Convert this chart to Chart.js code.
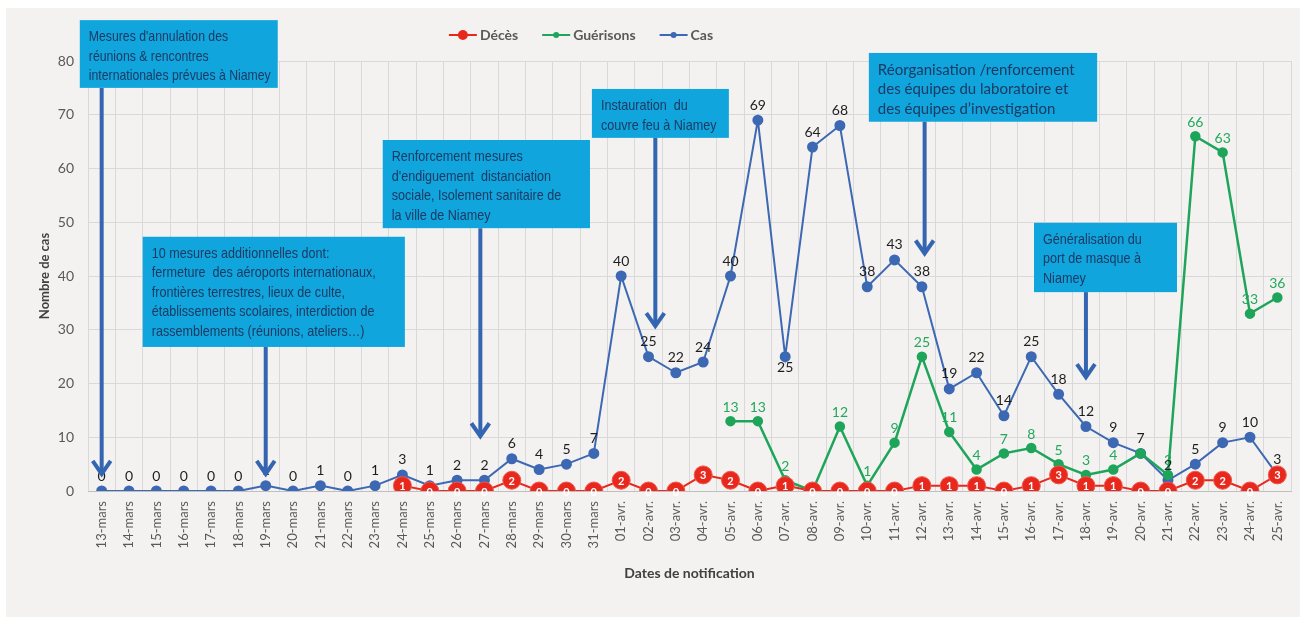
<!DOCTYPE html>
<html lang="fr">
<head>
<meta charset="utf-8">
<title>Cas, guérisons et décès par date de notification</title>
<script src="https://cdn.jsdelivr.net/npm/chart.js@4.4.1/dist/chart.umd.min.js"></script>
<style>
  html, body { margin: 0; padding: 0; background: #fff; }
  #wrap { width: 1308px; height: 617px; }
</style>
</head>
<body>
<div id="wrap"><canvas id="chart" width="1308" height="617"></canvas></div>
<script>
const dates = [
  "13-mars", "14-mars", "15-mars", "16-mars", "17-mars", "18-mars", "19-mars", "20-mars",
  "21-mars", "22-mars", "23-mars", "24-mars", "25-mars", "26-mars", "27-mars", "28-mars",
  "29-mars", "30-mars", "31-mars", "01-avr.", "02-avr.", "03-avr.", "04-avr.", "05-avr.",
  "06-avr.", "07-avr.", "08-avr.", "09-avr.", "10-avr.", "11-avr.", "12-avr.", "13-avr.",
  "14-avr.", "15-avr.", "16-avr.", "17-avr.", "18-avr.", "19-avr.", "20-avr.", "21-avr.",
  "22-avr.", "23-avr.", "24-avr.", "25-avr."
];

const cas = [
  0, 0, 0, 0, 0, 0, 1, 0, 1, 0, 1, 3, 1, 2, 2, 6, 4, 5, 7,
  40, 25, 22, 24, 40, 69, 25, 64, 68, 38, 43, 38, 19, 22, 14, 25, 18, 12, 9, 7, 2, 5, 9, 10, 3
];

const guerisons = [
  null, null, null, null, null, null, null, null, null, null, null, null, null, null, null, null,
  null, null, null, null, null, null, null,
  13, 13, 2, 0, 12, 1, 9, 25, 11, 4, 7, 8, 5, 3, 4, 7, 3, 66, 63, 33, 36
];

const deces = [
  null, null, null, null, null, null, null, null, null, null, null,
  1, 0, 0, 0, 2, 0, 0, 0, 2, 0, 0, 3, 2, 0, 1, 0, 0, 0, 0, 1, 1, 1, 0, 1, 3, 1, 1, 0, 0, 2, 2, 0, 3
];

// mesures annoncées : boîte (index de catégorie / valeur) + flèche vers la date
const mesures = [
  { lines: ["Mesures d'annulation des", "réunions & rencontres", "internationales prévues à Niamey"],
    box: [-0.8, 6.44, 87.6, 75.0], arrowX: 0, arrowTip: 3 },
  { lines: ["10 mesures additionnelles dont:", "fermeture  des aéroports internationaux,",
            "frontières terrestres, lieux de culte,", "établissements scolaires, interdiction de",
            "rassemblements (réunions, ateliers…)"],
    box: [1.5, 11.09, 47.3, 26.8], arrowX: 6, arrowTip: 3 },
  { lines: ["Renforcement mesures", "d'endiguement  distanciation", "sociale, Isolement sanitaire de",
            "la ville de Niamey"],
    box: [10.28, 17.86, 65.3, 48.9], arrowX: 13.85, arrowTip: 10 },
  { lines: ["Instauration  du", "couvre feu à Niamey"],
    box: [17.93, 22.94, 74.8, 65.7], arrowX: 20.25, arrowTip: 30.5 },
  { lines: ["Réorganisation /renforcement", "des équipes du laboratoire et", "des équipes d’investigation"],
    box: [28.06, 36.41, 81.5, 68.7], arrowX: 30.1, arrowTip: 44, wide: true },
  { lines: ["Généralisation du", "port de masque à", "Niamey"],
    box: [34.1, 39.33, 49.9, 37.0], arrowX: 36, arrowTip: 21 }
];

const RED = "#e8281c";
const GREEN = "#1ea55a";
const BLUE = "#3d68b3";

const backgroundPlugin = {
  id: "panel",
  beforeDraw(chart) {
    const ctx = chart.ctx;
    ctx.save();
    ctx.fillStyle = "#ffffff";
    ctx.fillRect(0, 0, chart.width, chart.height);
    ctx.fillStyle = "#f3f2f0";
    ctx.fillRect(6, 8, 1294, chart.height - 8);
    ctx.restore();
  }
};

const labelsPlugin = {
  id: "valueLabels",
  afterDatasetsDraw(chart) {
    const ctx = chart.ctx;
    ctx.save();
    ctx.textAlign = "center";
    chart.data.datasets.forEach((ds, i) => {
      const meta = chart.getDatasetMeta(i);
      meta.data.forEach((pt, j) => {
        const v = ds.data[j];
        if (v === null || v === undefined) return;
        if (ds.label === "Décès") {
          ctx.font = "bold 11px Lato, 'Open Sans', sans-serif";
          ctx.fillStyle = "#ffffff";
          ctx.textBaseline = "middle";
          ctx.fillText(String(v), pt.x, pt.y + 1);
        } else if (ds.label === "Guérisons") {
          // hidden under the other series where they meet
          if (v === cas[j] || v === deces[j]) return;
          ctx.font = "14px Lato, 'Open Sans', sans-serif";
          ctx.fillStyle = "#23a85e";
          ctx.textBaseline = "bottom";
          ctx.fillText(String(v), pt.x, pt.y - 7);
        } else {
          ctx.font = "14px Lato, 'Open Sans', sans-serif";
          ctx.fillStyle = "#1e1e1e";
          const prev = ds.data[j - 1], next = ds.data[j + 1];
          const dip = prev != null && next != null && prev - v > 20 && next - v > 20;
          if (dip) {
            ctx.textBaseline = "top";
            ctx.fillText(String(v), pt.x, pt.y + 4);
          } else {
            ctx.textBaseline = "bottom";
            ctx.fillText(String(v), pt.x, pt.y - 8);
          }
        }
      });
    });
    ctx.restore();
  }
};

function drawArrow(ctx, x, y0, y1) {
  ctx.strokeStyle = "#3465b1";
  ctx.lineWidth = 4;
  ctx.lineCap = "butt";
  ctx.beginPath();
  ctx.moveTo(x, y0);
  ctx.lineTo(x, y1 - 2);
  ctx.stroke();
  ctx.lineJoin = "miter";
  ctx.beginPath();
  ctx.moveTo(x - 9, y1 - 14);
  ctx.lineTo(x, y1 - 1);
  ctx.lineTo(x + 9, y1 - 14);
  ctx.stroke();
}

const mesuresPlugin = {
  id: "mesures",
  afterDatasetsDraw(chart) {
    const ctx = chart.ctx;
    const xs = chart.scales.x, ys = chart.scales.y;
    const step = xs.getPixelForValue(1) - xs.getPixelForValue(0);
    const px = (idx) => xs.getPixelForValue(0) + idx * step;
    ctx.save();
    mesures.forEach((m) => {
      const x0 = px(m.box[0]), x1 = px(m.box[1]);
      const y0 = ys.getPixelForValue(m.box[2]), y1 = ys.getPixelForValue(m.box[3]);
      ctx.fillStyle = "#10a5dd";
      ctx.fillRect(x0, y0, x1 - x0, y1 - y0);
      drawArrow(ctx, px(m.arrowX), y1, ys.getPixelForValue(m.arrowTip));
      ctx.fillStyle = "#1b3a63";
      ctx.textAlign = "left";
      ctx.textBaseline = "middle";
      ctx.font = m.wide
        ? "15px Lato, 'Open Sans', sans-serif"
        : "15px 'Liberation Sans', Arial, sans-serif";
      const avail = x1 - x0 - 16;
      const widest = Math.max(...m.lines.map((l) => ctx.measureText(l).width));
      const sx = Math.min(m.wide ? 1 : 0.84, avail / widest);
      m.lines.forEach((line, k) => {
        ctx.save();
        ctx.translate(x0 + 9, y0 + 17 + k * 19.5);
        ctx.scale(sx, 1);
        ctx.fillText(line, 0, 0);
        ctx.restore();
      });
    });
    ctx.restore();
  }
};

const legendPlugin = {
  id: "customLegend",
  afterDraw(chart) {
    const ctx = chart.ctx;
    const items = [
      { text: "Décès", color: RED, r: 5 },
      { text: "Guérisons", color: GREEN, r: 3 },
      { text: "Cas", color: BLUE, r: 3 }
    ];
    ctx.save();
    ctx.font = "bold 14px Lato, 'Open Sans', sans-serif";
    const markW = 28, gap = 3, itemGap = 24;
    let total = 0;
    items.forEach((it) => { it.w = markW + gap + ctx.measureText(it.text).width; total += it.w; });
    total += itemGap * (items.length - 1);
    let x = 581 - total / 2;
    const y = 35;
    items.forEach((it) => {
      ctx.strokeStyle = it.color;
      ctx.lineWidth = 2;
      ctx.beginPath();
      ctx.moveTo(x, y);
      ctx.lineTo(x + markW, y);
      ctx.stroke();
      ctx.fillStyle = it.color;
      ctx.beginPath();
      ctx.arc(x + markW / 2, y, it.r, 0, Math.PI * 2);
      ctx.fill();
      ctx.fillStyle = "#595959";
      ctx.textBaseline = "middle";
      ctx.textAlign = "left";
      ctx.fillText(it.text, x + markW + gap, y);
      x += it.w + itemGap;
    });
    ctx.restore();
  }
};

new Chart(document.getElementById("chart"), {
  type: "line",
  data: {
    labels: dates,
    datasets: [
      { label: "Décès", data: deces, borderColor: RED, backgroundColor: RED, borderWidth: 2,
        pointRadius: 9, pointHoverRadius: 9, pointBackgroundColor: RED, pointBorderColor: "#f0584d",
        pointBorderWidth: 1, tension: 0 },
      { label: "Guérisons", data: guerisons, borderColor: GREEN, backgroundColor: GREEN, borderWidth: 2.5,
        pointRadius: 4, pointHoverRadius: 4, pointBackgroundColor: GREEN, pointBorderColor: GREEN, tension: 0 },
      { label: "Cas", data: cas, borderColor: BLUE, backgroundColor: BLUE, borderWidth: 2,
        pointRadius: 4.5, pointHoverRadius: 4.5, pointBackgroundColor: BLUE, pointBorderColor: BLUE, tension: 0 }
    ]
  },
  options: {
    responsive: false,
    animation: false,
    events: [],
    layout: { padding: { top: 61, left: 30, right: 17, bottom: 30 } },
    plugins: { legend: { display: false }, tooltip: { enabled: false } },
    scales: {
      x: {
        offset: true,
        grid: { offset: true, color: "#d9d9d9", drawTicks: false },
        border: { color: "#bfbfbf" },
        ticks: { color: "#595959", font: { size: 13, family: "Lato, 'Open Sans', sans-serif" },
                 minRotation: 90, maxRotation: 90, autoSkip: false, padding: 10 },
        title: { display: true, text: "Dates de notification", color: "#404040",
                 font: { size: 14, weight: "bold", family: "Lato, 'Open Sans', sans-serif" },
                 padding: { top: 0, bottom: 5.6 } },
        afterFit: (s) => { s.height = 96; }
      },
      y: {
        min: 0, max: 80,
        grid: { color: "#d9d9d9", drawTicks: false },
        border: { display: false },
        ticks: { stepSize: 10, color: "#595959", padding: 14,
                 font: { size: 14, family: "Lato, 'Open Sans', sans-serif" } },
        title: { display: true, text: "Nombre de cas", color: "#404040",
                 font: { size: 13, weight: "bold", family: "Lato, 'Open Sans', sans-serif" },
                 padding: { top: 7, bottom: 0 } },
        afterFit: (s) => { s.width = 58; }
      }
    }
  },
  plugins: [backgroundPlugin, labelsPlugin, mesuresPlugin, legendPlugin]
});
</script>
</body>
</html>
